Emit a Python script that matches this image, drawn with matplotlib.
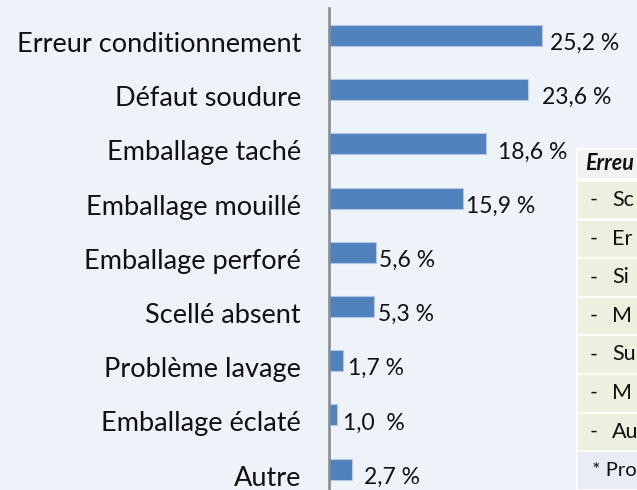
import matplotlib
matplotlib.use("Agg")
from matplotlib import pyplot as plt
from matplotlib.patches import Rectangle

categories = ["Erreur conditionnement", "Défaut soudure", "Emballage taché",
              "Emballage mouillé", "Emballage perforé", "Scellé absent",
              "Problème lavage", "Emballage éclaté", "Autre"]
values = [25.2, 23.6, 18.6, 15.9, 5.6, 5.3, 1.7, 1.0, 2.7]
value_labels = ["25,2 %", "23,6 %", "18,6 %", "15,9 %", "5,6 %", "5,3 %",
                "1,7 %", "1,0  %", "2,7 %"]

# encadré de droite : seul le début du texte est visible dans l'image
box_title = "Erreu"
box_items = ["Sc", "Er", "Si", "M", "Su", "M", "Au"]
box_note = "* Pro"

plt.rcParams['font.family'] = ['Lato', 'DejaVu Sans']

W, H = 637, 490
bg = '#EEF2F9'
fig = plt.figure(figsize=(W / 100, H / 100), dpi=100, facecolor=bg)

# axe principal : x=0 à 329 px, 8.45 px par %
ax = fig.add_axes([329 / W, 0, (W - 329) / W, (H - 8) / H])
ax.set_facecolor('none')
ax.set_xlim(0, (W - 329) / 8.45)
ax.set_ylim(8.385, -0.507)

pos = list(range(len(categories)))
ax.barh(pos, values, height=0.39, color='#4F81BD', edgecolor='#B3C8E2', linewidth=0.8)

for s in ['top', 'right', 'bottom']:
    ax.spines[s].set_visible(False)
ax.spines['left'].set_color('#8C8C8C')
ax.spines['left'].set_linewidth(1.9)
ax.set_xticks([])
ax.set_yticks([])

label_pad = [8, 14, 12, 3, 3, 4, 5, 6, 12]
for i in pos:
    ax.annotate(categories[i], xy=(0, i), xytext=(-28, -9), textcoords='offset pixels',
                ha='right', va='center', fontsize=19.5, color='#111111', annotation_clip=False)
    ax.annotate(value_labels[i], xy=(values[i], i), xytext=(label_pad[i], -8),
                textcoords='offset pixels', ha='left', va='center', fontsize=16.5,
                color='#111111', annotation_clip=False)

# encadré
box = fig.add_axes([576 / W, 0, 200 / W, 342 / H])
box.set_xlim(576, 776)
box.set_ylim(490, 148)
box.axis('off')
box.add_patch(Rectangle((576, 148), 200, 342, color='white'))
box.add_patch(Rectangle((578, 150), 198, 27, color='#F2F2F2'))
box.text(585, 164, box_title, fontsize=15.5, fontweight='bold', fontstyle='italic',
         ha='left', va='center', color='#111111')
row_top = 182
for item in box_items:
    box.add_patch(Rectangle((578, row_top), 198, 35.5, color='#EBF1DE'))
    box.text(590, row_top + 18, "-", fontsize=15.5, ha='left', va='center', color='#111111')
    box.text(612, row_top + 18, item, fontsize=15.5, ha='left', va='center', color='#111111')
    row_top += 38.6
box.add_patch(Rectangle((578, row_top), 198, 36, color='#E8ECF4'))
box.text(592, row_top + 18, box_note, fontsize=14.5, ha='left', va='center', color='#111111')

fig.savefig("out.png", dpi=100, facecolor=bg)
